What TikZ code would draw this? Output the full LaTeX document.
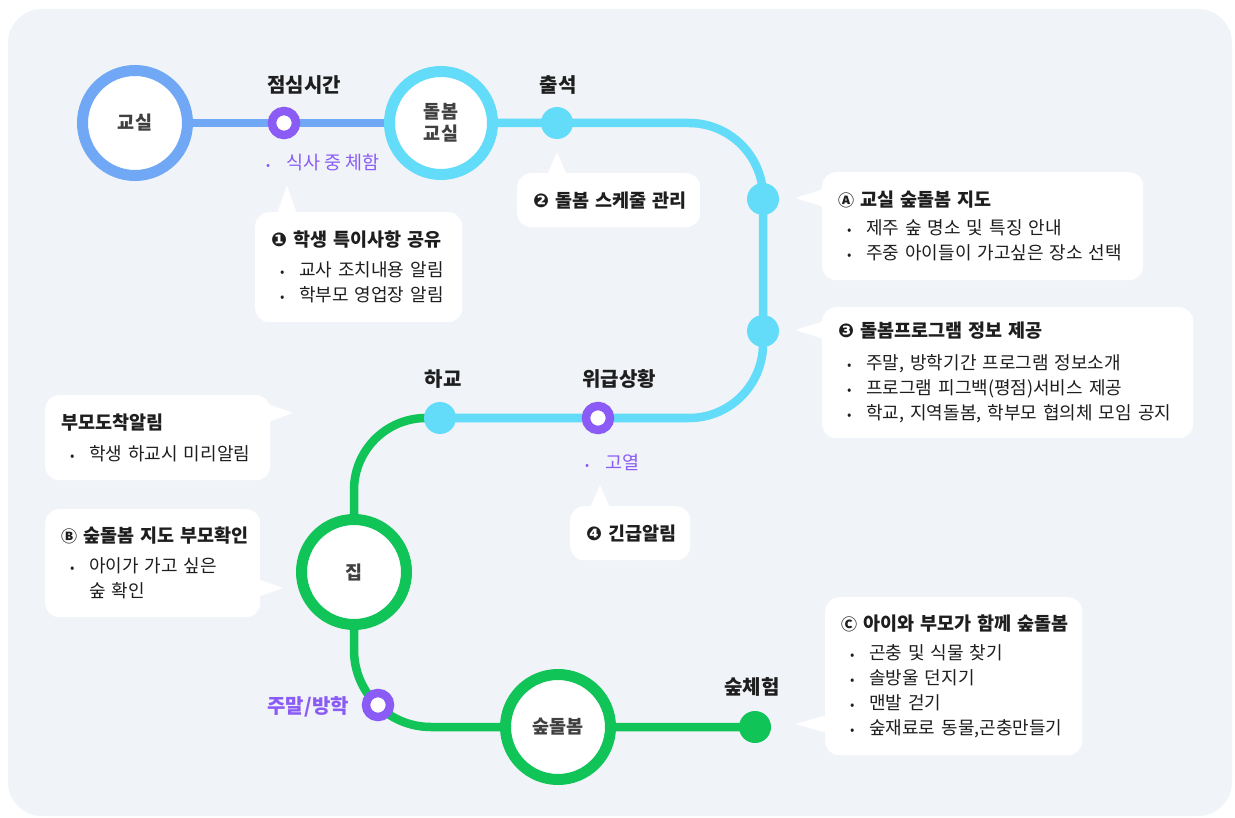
\documentclass[tikz,border=0pt]{standalone}
\usepackage{fontspec}
\setmainfont{Noto Sans CJK KR}
\newfontfamily\symfont{DejaVu Sans}
\usetikzlibrary{calc}
\pgfdeclarelayer{back}
\pgfdeclarelayer{track}
\pgfsetlayers{back,track,main}
\definecolor{bgc}{RGB}{240,243,248}
\definecolor{bluec}{RGB}{112,168,245}
\definecolor{cyanc}{RGB}{98,220,248}
\definecolor{greenc}{RGB}{16,196,88}
\definecolor{purplec}{RGB}{138,92,245}
\definecolor{txt}{RGB}{30,30,30}
\definecolor{stxt}{RGB}{64,64,64}
\newcommand\bl{\hspace*{9pt}\makebox[19pt][l]{\fontsize{13}{13}\selectfont\textbullet}}
\newcommand\nm[1]{{\symfont\fontsize{19}{19}\selectfont #1}}
\newcommand\lt[1]{{\fontsize{16}{16}\selectfont\bfseries #1}}
\newcommand\ttl[1]{\mbox{\fontsize{18.5}{25}\selectfont\bfseries #1}}
\begin{document}
\begin{tikzpicture}[x=1pt,y=-1pt,
  station/.style={circle, fill=white, line width=11pt, minimum size=105pt, inner sep=0pt,
    font=\fontsize{18.5}{22}\selectfont\bfseries, text=stxt, align=center},
  dot/.style={circle, inner sep=0pt, minimum size=32pt},
  ring/.style={circle, draw=purplec, fill=white, line width=8.5pt, minimum size=24pt, inner sep=0pt},
  track/.style={line width=8.5pt},
  lbl/.style={font=\fontsize{20}{22}\selectfont\bfseries, text=txt, inner sep=0pt},
  plbl/.style={font=\fontsize{18.5}{20}\selectfont, text=purplec, inner sep=0pt},
  callout/.style={fill=white, rounded corners=14pt, align=left, font=\fontsize{18}{25}\selectfont,
    text=txt, inner xsep=16pt, inner ysep=0pt, anchor=north west},
  pointer/.style={fill=white}]
\useasboundingbox (0,0) rectangle (1235,818);
\begin{pgfonlayer}{back}
\fill[white] (0,0) rectangle (1235,818);
\fill[bgc, rounded corners=34pt] (8,9) rectangle (1232,816);
\end{pgfonlayer}

% stations
\node[station, draw=bluec] (gyosil) at (135,123) {교실};
\node[station, draw=cyanc, minimum size=103pt] (dolbom) at (441,123) {돌봄\\교실};
\node[station, draw=greenc] (jip) at (354,572) {집};
\node[station, draw=greenc] (supdol) at (558,727) {숲돌봄};

% stops
\node[ring] (lunch) at (284,123) {};
\node[dot, fill=cyanc] (attend) at (557,123) {};
\node[dot, fill=cyanc] (dA) at (763,199) {};
\node[dot, fill=cyanc] (d3) at (763,331) {};
\node[ring] (emerg) at (598,418) {};
\node[dot, fill=cyanc] (hagyo) at (440,418) {};
\node[ring] (weekend) at (378,705) {};
\node[dot, fill=greenc] (supexp) at (755,727) {};

\coordinate (k1) at (763,123);
\coordinate (k2) at (763,418);
\coordinate (g1) at (354,418);
\coordinate (g2) at (354,727);

\begin{pgfonlayer}{track}
\draw[track, bluec] (gyosil.center) -- (dolbom.center);
\draw[track, cyanc, rounded corners=74pt] (dolbom.center) -- (k1) -- (k2) -- (hagyo.center);
\draw[track, greenc, rounded corners=72pt] (hagyo.center) -- (g1) -- (jip.center);
\draw[track, greenc, rounded corners=77pt] (jip.center) -- (g2) -- (supexp.center);
\end{pgfonlayer}

% labels
\node[lbl, anchor=west] (lunchL) at (267,85) {점심시간};
\node[lbl] (attendL) at (558,85) {출석};
\node[lbl] (hagyoL) at (443,379) {하교};
\node[lbl, anchor=west] (emergL) at (582,379) {위급상황};
\node[lbl] (supexpL) at (752,687) {숲체험};
\node[lbl, text=purplec, anchor=east] (weekendL) at (349,707) {주말/방학};
\node[plbl, anchor=west] (lunchN) at (266,163) {\makebox[20pt][l]{\fontsize{12}{12}\selectfont\textbullet}식사 중 체함};
\node[plbl, anchor=west] (emergN) at (585,462) {\makebox[20pt][l]{\fontsize{12}{12}\selectfont\textbullet}고열};

% callouts
\coordinate (p1) at (287,185);
\fill[pointer] (p1) -- (297,214) -- (277,214) -- cycle;
\node[callout, minimum width=207pt, minimum height=110pt, text width=175pt] (c1) at (255,212)
  {\ttl{\nm{❶} 학생 특이사항 공유}\\[5pt]\bl 교사 조치내용 알림\\\bl 학부모 영업장 알림};

\coordinate (p2) at (557,152);
\fill[pointer] (p2) -- (567,175) -- (547,175) -- cycle;
\node[callout, minimum width=183pt, minimum height=54pt, text width=151pt] (c2) at (517,173)
  {\ttl{\nm{❷} 돌봄 스케줄 관리}};

\coordinate (pA) at (795,198);
\fill[pointer] (pA) -- (824,189) -- (824,207) -- cycle;
\node[callout, minimum width=321pt, minimum height=108pt, text width=289pt] (cA) at (822,172)
  {\ttl{\lt{Ⓐ} 교실 숲돌봄 지도}\\[3pt]\bl 제주 숲 명소 및 특징 안내\\\bl 주중 아이들이 가고싶은 장소 선택};

\coordinate (p3) at (795,330);
\fill[pointer] (p3) -- (824,321) -- (824,339) -- cycle;
\node[callout, minimum width=371pt, minimum height=131pt, text width=339pt] (c3) at (822,307)
  {\ttl{\nm{❸} 돌봄프로그램 정보 제공}\\[7pt]\bl 주말, 방학기간 프로그램 정보소개\\\bl 프로그램 피그백(평점)서비스 제공\\\bl 학교, 지역돌봄, 학부모 협의체 모임 공지};

\coordinate (pP) at (293,413);
\fill[pointer] (pP) -- (268,404) -- (268,422) -- cycle;
\node[callout, minimum width=225pt, minimum height=85pt, text width=193pt] (cP) at (45,395)
  {\ttl{부모도착알림}\\[6pt]\bl 학생 하교시 미리알림};

\coordinate (pB) at (283,588);
\fill[pointer] (pB) -- (258,579) -- (258,597) -- cycle;
\node[callout, minimum width=215pt, minimum height=108pt, text width=183pt] (cB) at (45,509)
  {\ttl{\lt{Ⓑ} 숲돌봄 지도 부모확인}\\[5pt]\bl 아이가 가고 싶은\\\hspace*{28pt}숲 확인};

\coordinate (p4) at (600,485);
\fill[pointer] (p4) -- (610,508) -- (590,508) -- cycle;
\node[callout, minimum width=120pt, minimum height=54pt, text width=88pt] (c4) at (570,506)
  {\ttl{\nm{❹} 긴급알림}};

\coordinate (pC) at (795,724);
\fill[pointer] (pC) -- (827,715) -- (827,733) -- cycle;
\node[callout, minimum width=257pt, minimum height=158pt, text width=225pt] (cC) at (825,597)
  {\ttl{\lt{Ⓒ} 아이와 부모가 함께 숲돌봄}\\[4pt]\bl 곤충 및 식물 찾기\\\bl 솔방울 던지기\\\bl 맨발 걷기\\\bl 숲재료로 동물,곤충만들기};
\end{tikzpicture}
\end{document}
